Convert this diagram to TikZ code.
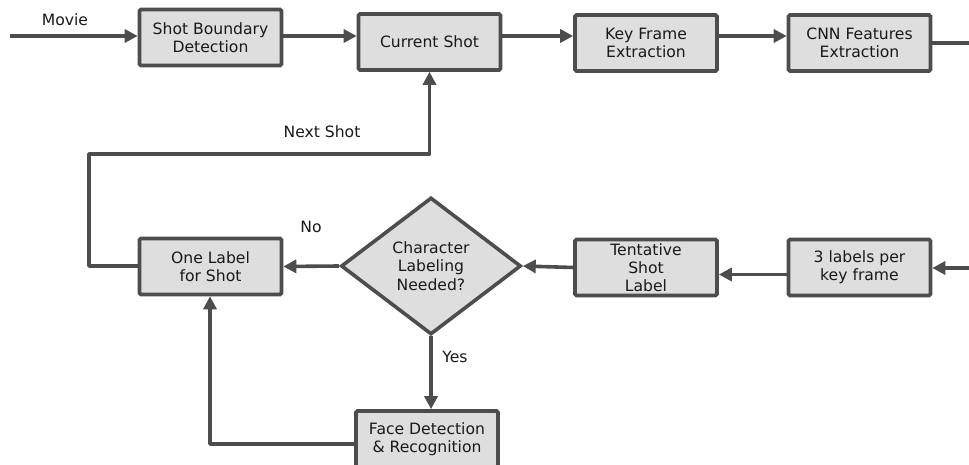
\documentclass[tikz,border=0pt]{standalone}
\usepackage{fontspec}
\setmainfont{DejaVu Sans}
\usetikzlibrary{shapes.geometric,arrows.meta}
\definecolor{edgegray}{HTML}{4D4D4D}
\definecolor{boxfill}{HTML}{DEDEDE}
\begin{document}
\begin{tikzpicture}[x=1pt,y=-1pt,
  font=\fontsize{15.6}{18.2}\selectfont,
  procbox/.style={draw=edgegray,fill=boxfill,line width=3.6pt,rounded corners=1.5pt,
    minimum width=142pt,minimum height=56pt,align=center,inner sep=0pt,text=black!90},
  decbox/.style={draw=edgegray,fill=boxfill,line width=3.6pt,diamond,aspect=1.31,
    minimum width=180pt,minimum height=137pt,align=center,inner sep=0pt,text=black!90},
  flow/.style={draw=edgegray,line width=3.6pt},
  tip/.style={-{Triangle[length=13pt,width=13pt]}},
  lbl/.style={text=black!90}]
\useasboundingbox (0,0) rectangle (969,465);

% top row
\node[procbox] (sbd)  at (210.5,37.5) {Shot Boundary\\Detection};
\node[procbox] (cur)  at (429.5,42)   {Current Shot};
\node[procbox] (kf)   at (646,43)     {Key Frame\\Extraction};
\node[procbox] (cnn)  at (859.5,43)   {CNN Features\\Extraction};

% middle row
\node[procbox] (one)  at (210.5,266.5) {One Label\\for Shot};
\node[decbox]  (dia)  at (431,266)     {Character\\Labeling\\Needed?};
\node[procbox] (tent) at (646,267.5)   {Tentative\\Shot\\Label};
\node[procbox] (lab3) at (859.5,267.5) {3 labels per\\key frame};

% bottom
\node[procbox] (face) at (427,439) {Face Detection\\\& Recognition};

% free ends of the pipeline
\coordinate (in)   at (10,36);
\coordinate (out)  at (969,43);
\coordinate (in2)  at (969,268);
\coordinate (loopa) at (89,266);
\coordinate (loopb) at (89,154);
\coordinate (backa) at (210,444);

% connectors
\draw[flow,tip] (in) -- (sbd.west |- in);
\draw[flow,tip] (sbd.east |- in) -- (cur.west |- in);
\draw[flow,tip] (cur.east |- in) -- (kf.west |- in);
\draw[flow,tip] (kf.east |- in) -- (cnn.west |- in);
\draw[flow] (cnn.east) -- (out);

\draw[flow,tip] (in2) -- (lab3.east |- in2);
\draw[flow,tip] ([yshift=-7pt]lab3.west) -- ([yshift=-7pt]tent.east);
\draw[flow,tip] (tent.west) -- (dia.east);
\draw[flow,tip] (dia.west) -- (one.east);

\draw[flow,tip,line join=round] (one.west |- loopa) -- (loopa) -- (loopb) -- (cur.south |- loopb) -- (cur.south);
\draw[flow,tip] (dia.south) -- (face.north -| dia.south);
\draw[flow,tip,line join=round] (face.west |- backa) -- (backa) -- (one.south -| backa);

% labels
\node[lbl] (lmovie) at (65,20)   {Movie};
\node[lbl] (lnext)  at (322,132) {Next Shot};
\node[lbl] (lno)    at (311,227) {No};
\node[lbl] (lyes)   at (455,357) {Yes};
\end{tikzpicture}
\end{document}
